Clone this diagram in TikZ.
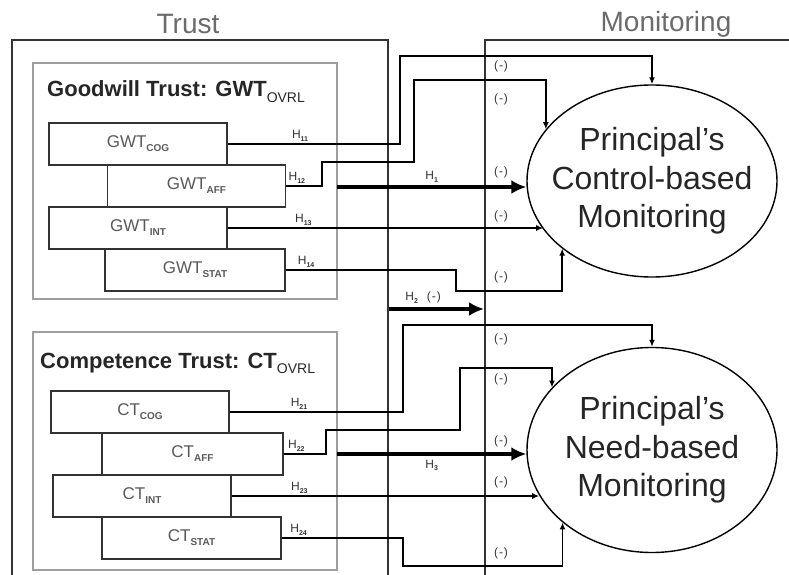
\documentclass[tikz,border=0pt]{standalone}
\usepackage{fontspec}
\setmainfont{Liberation Sans}
\usetikzlibrary{arrows.meta,shapes.geometric,positioning}
\definecolor{framegray}{gray}{0.2}
\definecolor{panelgray}{gray}{0.62}
\definecolor{labelgray}{gray}{0.35}
\definecolor{headgray}{gray}{0.42}
\newcommand{\lowtag}[1]{\raisebox{-0.45ex}{\fontsize{10}{10}\selectfont\bfseries #1}}
\newcommand{\hname}[1]{H\raisebox{-0.4ex}{\fontsize{7}{7}\selectfont\bfseries #1}}
\tikzset{
  part/.style={draw=framegray, line width=1.3pt, minimum width=178pt, minimum height=42pt,
    inner sep=0pt, text=labelgray, font=\fontsize{17}{17}\selectfont},
  panel/.style={draw=panelgray, line width=2pt, minimum width=304pt, inner sep=0pt},
  paneltitle/.style={anchor=base west, inner sep=0pt, text=black!85,
    font=\fontsize{22}{22}\selectfont\bfseries},
  monit/.style={draw, ellipse, line width=1.4pt, minimum width=250pt, inner sep=0pt},
  monittext/.style={align=center, inner sep=0pt, text=black!85, font=\fontsize{32}{38.5}\selectfont},
  link/.style={line width=1.8pt},
  linkarr/.style={link, -{Latex[length=7pt,width=6pt]}},
  bigarr/.style={line width=4pt, -{Latex[length=15pt,width=14pt]}},
  hlab/.style={above=1pt, inner sep=1pt, text=black!80, font=\fontsize{12}{12}\selectfont},
  sign/.style={inner sep=0pt, text=black!80, font=\fontsize{12}{12}\selectfont},
  head/.style={anchor=base, inner sep=0pt, text=headgray, font=\fontsize{28}{28}\selectfont}
}
\begin{document}
\begin{tikzpicture}[x=1pt,y=-1pt]
  \useasboundingbox (0,0) rectangle (789,575);

  % the two big frames
  \draw[line width=2.2pt, framegray] (12,575) -- (12,40) -- (388,40) -- (388,575);
  \draw[line width=2.2pt, framegray] (485,575) -- (485,40) -- (789,40);
  \node[head] (trusthead) at (188,34) {Trust};
  \node[head] (monhead) at (666,32) {Monitoring};

  % trust panels
  \node[panel, minimum height=236pt] (gwpanel) at (185,181) {};
  \node[panel, minimum height=238pt] (ctpanel) at (185,451) {};
  \node[paneltitle] (gwtitle) at (47,97)
    {Goodwill Trust: GWT\raisebox{-0.45ex}{\fontsize{14}{14}\selectfont\mdseries OVRL}};
  \node[paneltitle] (cttitle) at (40,368)
    {Competence Trust: CT\raisebox{-0.45ex}{\fontsize{14}{14}\selectfont\mdseries OVRL}};

  \node[part] (gcog) at (138,144) {GWT\lowtag{COG}};
  \node[part] (gaff) at (196.5,186) {GWT\lowtag{AFF}};
  \node[part] (gint) at (138,228) {GWT\lowtag{INT}};
  \node[part, minimum width=180pt] (gstat) at (195,270) {GWT\lowtag{STAT}};

  \node[part] (ccog) at (140,412) {CT\lowtag{COG}};
  \node[part, minimum width=181pt] (caff) at (192.5,454) {CT\lowtag{AFF}};
  \node[part] (cint) at (142,496) {CT\lowtag{INT}};
  \node[part, minimum width=179pt] (cstat) at (191.5,538) {CT\lowtag{STAT}};

  % monitoring
  \node[monit, minimum height=192pt] (ctrl) at (652,181) {};
  \node[monittext] (ctrltext) at (ctrl) {Principal’s\\Control-based\\Monitoring};
  \node[monit, minimum height=205pt] (need) at (652,450) {};
  \node[monittext] (needtext) at (need) {Principal’s\\Need-based\\Monitoring};

  \coordinate (h1s) at (337,187);
  \coordinate (h2s) at (389,309);
  \coordinate (h2e) at (484,309);
  \coordinate (h3s) at (337,454);

  % goodwill hypotheses
  \draw[linkarr] (gcog.east) -- node[hlab, pos=.42]{\hname{11}} (gcog.east -| 400,0)
    |- (ctrl.north |- 0,56) -- (ctrl.north);
  \draw[linkarr] (gaff.east) -- node[hlab, pos=.3]{\hname{12}} (gaff.east -| 322,0)
    |- (414,162) |- (ctrl.154 |- 0,80) -- (ctrl.154);
  \draw[linkarr] (gint.east) -- node[hlab, pos=.24]{\hname{13}} (gint.east -| ctrl.204);
  \draw[linkarr] (gstat.east) -- node[hlab, pos=.12]{\hname{14}} (gstat.east -| 456,0)
    |- (ctrl.217 |- 0,291) -- (ctrl.217);
  \draw[bigarr] (h1s) -- node[hlab, above=2pt]{\hname{1}} (h1s -| ctrl.west);
  \draw[bigarr] (h2s) -- node[hlab, pos=.36, above=3pt]{\hname{2}\hspace{9pt}(\kern1pt-\kern1pt)} (h2e);

  % competence hypotheses
  \draw[linkarr] (ccog.east) -- node[hlab, pos=.4]{\hname{21}} (ccog.east -| 403,0)
    |- (need.north |- 0,325) -- (need.north);
  \draw[linkarr] (caff.east) -- node[hlab, pos=.3]{\hname{22}} (caff.east -| 326,0)
    |- (460,430) |- (need.148 |- 0,368) -- (need.148);
  \draw[linkarr] (cint.east) -- node[hlab, pos=.22]{\hname{23}} (cint.east -| need.202);
  \draw[linkarr] (cstat.east) -- node[hlab, pos=.14]{\hname{24}} (cstat.east -| 403,0)
    |- (need.219 |- 0,566) -- (need.219);
  \draw[bigarr] (h3s) -- node[hlab, below=3pt]{\hname{3}} (h3s -| need.west);

  % signs
  \node[sign] (sign11) at (501,66) {(\kern1pt-\kern1pt)};
  \node[sign] (sign12) at (501,99) {(\kern1pt-\kern1pt)};
  \node[sign] (sign1) at (501,172) {(\kern1pt-\kern1pt)};
  \node[sign] (sign13) at (501,216) {(\kern1pt-\kern1pt)};
  \node[sign] (sign14) at (501,277) {(\kern1pt-\kern1pt)};
  \node[sign] (sign21) at (501,339) {(\kern1pt-\kern1pt)};
  \node[sign] (sign22) at (501,379) {(\kern1pt-\kern1pt)};
  \node[sign] (sign3) at (501,441) {(\kern1pt-\kern1pt)};
  \node[sign] (sign23) at (501,482) {(\kern1pt-\kern1pt)};
  \node[sign] (sign24) at (501,553) {(\kern1pt-\kern1pt)};
\end{tikzpicture}
\end{document}
